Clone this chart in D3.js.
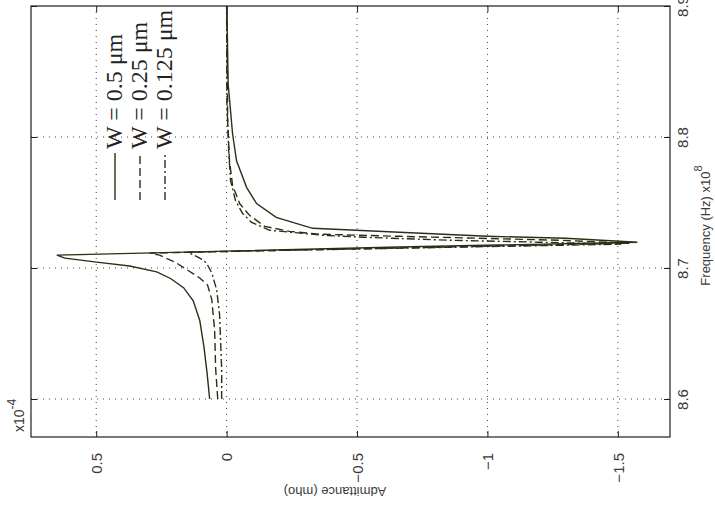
<!DOCTYPE html>
<html>
<head>
<meta charset="utf-8">
<script src="https://cdn.jsdelivr.net/npm/d3@7"></script>
<style>
  body { margin: 0; background: #fff; }
</style>
</head>
<body>
<div id="chart"></div>
<script>
// Series labels and tick values.
const seriesNames = ["W = 0.5 \u03bcm", "W = 0.25 \u03bcm", "W = 0.125 \u03bcm"];
const freqTicks = [8.6, 8.7, 8.8, 8.9];          // x 10^8 Hz
const admTicks = [0.5, 0, -0.5, -1, -1.5];       // x 10^-4 mho

// W = 0.5 um (solid)
const freq05 = [8.600, 8.620, 8.640, 8.660, 8.675, 8.685, 8.692, 8.697, 8.7015, 8.7045, 8.7075, 8.7098,
                8.7129, 8.7160, 8.7197, 8.7227, 8.7242, 8.7273, 8.7303, 8.7386, 8.7492, 8.7614, 8.7818,
                8.8023, 8.8402, 8.900];
const adm05 = [0.065, 0.075, 0.087, 0.103, 0.128, 0.165, 0.215, 0.268, 0.372, 0.498, 0.620, 0.651,
               0.000, -0.660, -1.575, -1.300, -1.000, -0.663, -0.330, -0.190, -0.115, -0.077, -0.038,
               -0.023, -0.006, -0.001];

// W = 0.25 um (dashed)
const freq025 = [8.600, 8.623, 8.653, 8.676, 8.687, 8.6924, 8.7038, 8.7098, 8.7114, 8.7126, 8.7189,
                 8.7212, 8.7227, 8.7242, 8.7258, 8.7280, 8.7318, 8.7402, 8.7492, 8.7629, 8.7818, 8.8121,
                 8.900];
const adm025 = [0.034, 0.042, 0.046, 0.057, 0.073, 0.103, 0.192, 0.257, 0.295, 0.000, -1.544,
                -1.276, -0.969, -0.663, -0.356, -0.241, -0.146, -0.088, -0.050, -0.023, -0.011, -0.004,
                -0.001];

// W = 0.125 um (dash-dot)
const freq0125 = [8.600, 8.6227, 8.6644, 8.6833, 8.6962, 8.7038, 8.7076, 8.7121, 8.7127, 8.7182,
                  8.7197, 8.7212, 8.7235, 8.7250, 8.7288, 8.7348, 8.7417, 8.7515, 8.7667, 8.7894,
                  8.8273, 8.900];
const adm0125 = [0.019, 0.019, 0.027, 0.038, 0.057, 0.077, 0.103, 0.149, 0.000, -1.513,
                 -1.199, -0.854, -0.521, -0.368, -0.165, -0.096, -0.061, -0.034, -0.015, -0.008,
                 -0.001, 0.000];

const series = [
  { name: seriesNames[0], freq: freq05, adm: adm05, dash: null },
  { name: seriesNames[1], freq: freq025, adm: adm025, dash: "8,4" },
  { name: seriesNames[2], freq: freq0125, adm: adm0125, dash: "8,3,2,3" }
];

// Canvas and plot box (the figure is a plot turned a quarter turn counter-clockwise).
const w = 715, h = 513;
const boxLeft = 31, boxRight = 670, boxTop = 6, boxBottom = 437;
const ink = "#2e2e16", axisInk = "#1e1e1e", textInk = "#3a3a3a";

// Admittance runs horizontally (positive to the left), frequency runs upward.
const xScale = d3.scaleLinear().domain([0.75, -1.7]).range([boxLeft, boxRight]);
const yScale = d3.scaleLinear().domain([8.571, 8.9]).range([boxBottom, boxTop]);

const svg = d3.select("#chart")
  .append("svg")
  .attr("width", w)
  .attr("height", h)
  .style("font-family", "'Liberation Sans', Arial, sans-serif");

// Dotted grid.
const grid = svg.append("g")
  .attr("stroke", "#444")
  .attr("stroke-width", 1)
  .attr("stroke-dasharray", "1,5");

grid.selectAll("line.gx")
  .data(admTicks)
  .enter()
  .append("line")
  .attr("x1", d => xScale(d))
  .attr("x2", d => xScale(d))
  .attr("y1", boxTop)
  .attr("y2", boxBottom);

grid.selectAll("line.gy")
  .data(freqTicks.filter(d => d < 8.9))
  .enter()
  .append("line")
  .attr("x1", boxLeft)
  .attr("x2", boxRight)
  .attr("y1", d => yScale(d))
  .attr("y2", d => yScale(d));

// Curves.
const line = d3.line()
  .x(d => xScale(d[1]))
  .y(d => yScale(d[0]));

svg.append("g")
  .selectAll("path")
  .data(series)
  .enter()
  .append("path")
  .attr("d", s => line(s.freq.map((f, i) => [f, s.adm[i]])))
  .attr("fill", "none")
  .attr("stroke", ink)
  .attr("stroke-width", 1.4)
  .attr("stroke-dasharray", s => s.dash);

// Axes: ticks point into the box, labels turned with the figure.
const bottomAxis = d3.axisBottom(xScale).tickValues(admTicks).tickSize(-6).tickFormat(d3.format(""));
const topAxis = d3.axisTop(xScale).tickValues(admTicks).tickSize(-6).tickFormat("");
const rightAxis = d3.axisRight(yScale).tickValues(freqTicks).tickSize(-6).tickFormat(d3.format(".1f"));
const leftAxis = d3.axisLeft(yScale).tickValues(freqTicks).tickSize(-6).tickFormat("");

function styleAxis(g) {
  g.select(".domain").remove();
  g.selectAll(".tick line").attr("stroke", axisInk);
  g.selectAll(".tick text").attr("fill", textInk).style("font-size", "15px");
}

svg.append("g")
  .attr("transform", `translate(0, ${boxBottom})`)
  .call(bottomAxis)
  .call(styleAxis)
  .selectAll(".tick text")
  .attr("transform", "rotate(-90)")
  .attr("text-anchor", "end")
  .attr("x", -16)
  .attr("y", 0)
  .attr("dy", "0.35em");

svg.append("g")
  .attr("transform", `translate(0, ${boxTop})`)
  .call(topAxis)
  .call(styleAxis);

svg.append("g")
  .attr("transform", `translate(${boxRight}, 0)`)
  .call(rightAxis)
  .call(styleAxis)
  .selectAll(".tick text")
  .attr("transform", "rotate(-90)")
  .attr("text-anchor", "middle")
  .attr("x", 0)
  .attr("y", 13)
  .attr("dy", "0.35em");

svg.append("g")
  .attr("transform", `translate(${boxLeft}, 0)`)
  .call(leftAxis)
  .call(styleAxis);

// Box.
svg.append("rect")
  .attr("x", boxLeft)
  .attr("y", boxTop)
  .attr("width", boxRight - boxLeft)
  .attr("height", boxBottom - boxTop)
  .attr("fill", "none")
  .attr("stroke", axisInk)
  .attr("stroke-width", 1.2);

// Axis titles.
const fTitle = svg.append("text")
  .attr("transform", `translate(710, ${(boxTop + boxBottom) / 2 + 4}) rotate(-90)`)
  .attr("text-anchor", "middle")
  .attr("fill", textInk)
  .style("font-size", "13px");
fTitle.append("tspan").text("Frequency (Hz) x10");
fTitle.append("tspan").attr("dy", "-0.7em").style("font-size", "11px").text("8");

svg.append("text")
  .attr("transform", "translate(335, 492) rotate(180)")
  .attr("text-anchor", "middle")
  .attr("dy", "0.35em")
  .attr("fill", textInk)
  .style("font-size", "13px")
  .text("Admittance (mho)");

const expo = svg.append("text")
  .attr("transform", "translate(24, 432) rotate(-90)")
  .attr("fill", textInk)
  .style("font-size", "14px");
expo.append("tspan").text("x10");
expo.append("tspan").attr("dy", "-0.7em").style("font-size", "12px").text("-4");

// Legend.
const legend = svg.append("g");
series.forEach((s, i) => {
  const lx = 115 + i * 25;
  legend.append("line")
    .attr("x1", lx).attr("x2", lx)
    .attr("y1", 200).attr("y2", 153)
    .attr("stroke", ink)
    .attr("stroke-width", 1.4)
    .attr("stroke-dasharray", s.dash);
  legend.append("text")
    .attr("transform", `translate(${lx + 7}, 149) rotate(-90)`)
    .attr("fill", "#222")
    .style("font-family", "'Liberation Serif', 'Times New Roman', serif")
    .style("font-size", "24px")
    .text(s.name);
});
</script>
</body>
</html>
